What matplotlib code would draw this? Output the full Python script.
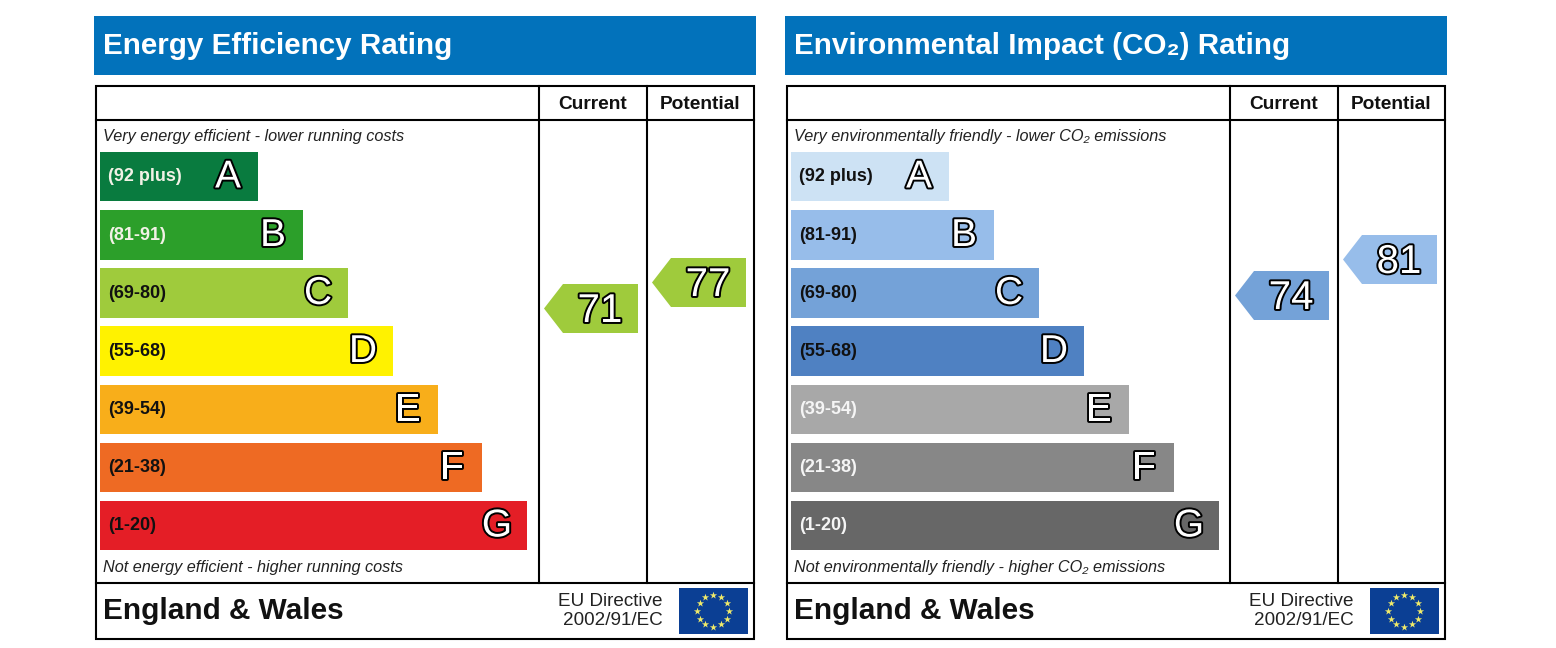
import numpy as np
import matplotlib
matplotlib.use('Agg')
import matplotlib.pyplot as plt
import matplotlib.patheffects as pe
from matplotlib.patches import Polygon, Rectangle

plt.rcParams['font.family'] = ['Liberation Sans', 'DejaVu Sans']

# band data
letters = ['A', 'B', 'C', 'D', 'E', 'F', 'G']
ranges = ['(92 plus)', '(81-91)', '(69-80)', '(55-68)', '(39-54)', '(21-38)', '(1-20)']
energy_widths = [158, 203, 248, 293, 338, 382, 427]
co2_widths = [158, 203, 248, 293, 338, 383, 428]
band_tops = [152, 210, 268, 326, 385, 443, 501]
band_heights = [49, 50, 50, 50, 49, 49, 49]

energy_colors = ['#097b3f', '#2c9f2a', '#9fcb3c', '#fff200', '#f8ae1a', '#ee6a23', '#e41e26']
energy_label_colors = ['#f2f2e6', '#f2f2e6', '#111111', '#111111', '#111111', '#111111', '#111111']
co2_colors = ['#cde2f4', '#97bdea', '#74a2d8', '#4f81c2', '#a8a8a8', '#878787', '#676767']
co2_label_colors = ['#111111', '#111111', '#111111', '#111111', '#f5f5f5', '#f5f5f5', '#f5f5f5']

# rating arrows
energy_ratings = [71, 77]
energy_arrow_tops = [284, 258]
energy_arrow_colors = ['#9fcb3c', '#9fcb3c']
co2_ratings = [74, 81]
co2_arrow_tops = [271, 235]
co2_arrow_colors = ['#74a2d8', '#97bdea']

fig = plt.figure(figsize=(15.56, 6.48), dpi=100)
ax = fig.add_axes([0, 0, 1, 1])
ax.set_xlim(0, 1556)
ax.set_ylim(648, 0)
ax.axis('off')

outline = [pe.Stroke(linewidth=2.8, foreground='black'), pe.Normal()]


def draw_panel(x0, title, top_note, bottom_note, widths, colors, label_colors, ratings, arrow_tops, arrow_colors):
    # header strip
    ax.add_patch(Rectangle((x0 - 2, 16), 662, 59, fc='#0272bb', ec='none'))
    ax.text(x0 + 7, 46, title, color='white', fontsize=21.3, fontweight='bold', va='center')

    # table frame
    left, right = x0, x0 + 658
    col1, col2 = x0 + 443, x0 + 551
    ax.add_patch(Rectangle((left, 86), 658, 553, fc='white', ec='black', lw=1.5))
    ax.plot([left, right], [120, 120], color='black', lw=1.5)
    ax.plot([left, right], [583, 583], color='black', lw=1.5)
    ax.plot([col1, col1], [86, 583], color='black', lw=1.5)
    ax.plot([col2, col2], [86, 583], color='black', lw=1.5)
    ax.text((col1 + col2) / 2, 104.5, 'Current', ha='center', va='center', fontsize=13.8, fontweight='bold', color='#111111')
    ax.text((col2 + right) / 2, 104.5, 'Potential', ha='center', va='center', fontsize=13.8, fontweight='bold', color='#111111')

    ax.text(x0 + 7, 136.5, top_note, style='italic', fontsize=11.7, va='center', color='#222222')
    ax.text(x0 + 7, 567.5, bottom_note, style='italic', fontsize=11.7, va='center', color='#222222')

    # bands
    ax.barh(band_tops, widths, height=band_heights, left=x0 + 4, align='edge', color=colors)
    for i in range(len(letters)):
        yc = band_tops[i] + band_heights[i] / 2
        ax.text(x0 + 12, yc, ranges[i], color=label_colors[i], fontsize=13, fontweight='bold', va='center')
        ax.text(x0 + 4 + widths[i] - 30, yc + 1, letters[i], color='white', fontsize=28, ha='center',
                va='center', path_effects=outline)

    # current / potential arrows
    for j, (rating, top, c) in enumerate(zip(ratings, arrow_tops, arrow_colors)):
        end = (col1 if j == 0 else col2) + 99
        tip = end - 94
        pts = [(tip, top + 24.5), (tip + 19, top), (end, top), (end, top + 49), (tip + 19, top + 49)]
        ax.add_patch(Polygon(pts, closed=True, fc=c, ec='none'))
        ax.text(end - 38, top + 27, str(rating), color='white', fontsize=29, ha='center', va='center',
                path_effects=outline)

    # footer
    ax.text(x0 + 7, 611, 'England & Wales', fontsize=21.4, fontweight='bold', va='center', color='#111111')
    ax.text(x0 + 567, 611, 'EU Directive\n2002/91/EC', fontsize=13.6, ha='right', va='center',
            color='#222222', linespacing=1.1, multialignment='right')

    # EU flag
    ax.add_patch(Rectangle((x0 + 583, 588), 69, 46, fc='#0b3f94', ec='none'))
    ang = np.deg2rad(np.arange(0, 360, 30))
    ax.scatter(x0 + 617.5 + 16 * np.cos(ang), 610.5 + 16 * np.sin(ang), marker='*', s=30, color='#f0ea6a', lw=0)


draw_panel(96, 'Energy Efficiency Rating',
           'Very energy efficient - lower running costs',
           'Not energy efficient - higher running costs',
           energy_widths, energy_colors, energy_label_colors, energy_ratings, energy_arrow_tops, energy_arrow_colors)
draw_panel(787, 'Environmental Impact (CO\u2082) Rating',
           'Very environmentally friendly - lower CO\u2082 emissions',
           'Not environmentally friendly - higher CO\u2082 emissions',
           co2_widths, co2_colors, co2_label_colors, co2_ratings, co2_arrow_tops, co2_arrow_colors)

fig.savefig('out.png', dpi=100, facecolor='white')
